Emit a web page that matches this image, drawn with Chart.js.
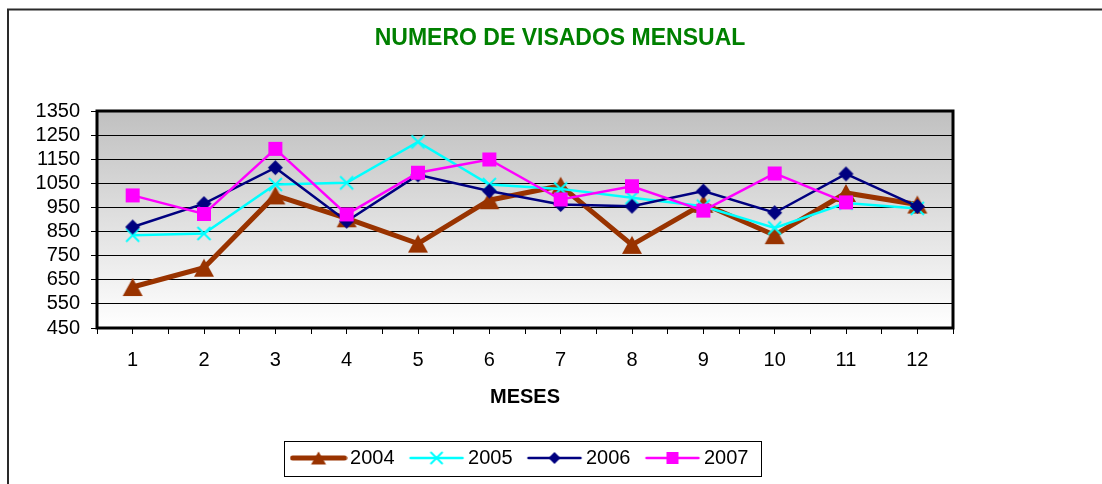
<!DOCTYPE html>
<html>
<head>
<meta charset="utf-8">
<script src="https://cdn.jsdelivr.net/npm/chart.js@4.4.1/dist/chart.umd.min.js"></script>
<style>
html,body{margin:0;padding:0;background:#fff;}
canvas{display:block;}
</style>
</head>
<body>
<canvas id="c" width="1102" height="484"></canvas>
<script>
// ---- data ----
const months = [1, 2, 3, 4, 5, 6, 7, 8, 9, 10, 11, 12];
const years = ['2004', '2005', '2006', '2007'];
const v2004 = [620, 700, 1000, 905, 800, 980, 1040, 795, 965, 835, 1010, 962];
const v2005 = [835, 842, 1045, 1052, 1222, 1045, 1027, 990, 955, 865, 968, 946];
const v2006 = [869, 966, 1115, 893, 1085, 1018, 962, 955, 1018, 928, 1089, 954];
const v2007 = [1000, 923, 1193, 921, 1094, 1149, 983, 1038, 937, 1091, 971, null];
const yMin = 450, yMax = 1350, yStep = 100;
const chartTitle = 'NUMERO DE VISADOS MENSUAL';
const xAxisTitle = 'MESES';

// ---- styles ----
const FONT = '"Liberation Sans", Arial, sans-serif';
const styles = [
  {color: '#993300', lineWidth: 5, marker: 'triangle', mw: 20, mh: 18, lw: 15, lh: 13},
  {color: '#00FFFF', lineWidth: 2.5, marker: 'cross', mw: 13, mh: 13, lw: 11, lh: 11},
  {color: '#000080', lineWidth: 2.5, marker: 'diamond', mw: 15, mh: 15, lw: 12, lh: 12},
  {color: '#FF00FF', lineWidth: 2.5, marker: 'square', mw: 14, mh: 14, lw: 12, lh: 12}
];
const series = [v2004, v2005, v2006, v2007];

function drawMarker(ctx, type, color, w, h, cx, cy) {
  ctx.fillStyle = color;
  ctx.strokeStyle = color;
  ctx.beginPath();
  if (type === 'triangle') {
    ctx.moveTo(cx, cy - h / 2);
    ctx.lineTo(cx + w / 2, cy + h / 2);
    ctx.lineTo(cx - w / 2, cy + h / 2);
    ctx.closePath();
    ctx.fill();
  } else if (type === 'diamond') {
    ctx.moveTo(cx, cy - h / 2);
    ctx.lineTo(cx + w / 2, cy);
    ctx.lineTo(cx, cy + h / 2);
    ctx.lineTo(cx - w / 2, cy);
    ctx.closePath();
    ctx.fill();
  } else if (type === 'square') {
    ctx.rect(cx - w / 2, cy - h / 2, w, h);
    ctx.fill();
  } else if (type === 'cross') {
    ctx.lineWidth = 2;
    ctx.moveTo(cx - w / 2, cy - h / 2);
    ctx.lineTo(cx + w / 2, cy + h / 2);
    ctx.moveTo(cx + w / 2, cy - h / 2);
    ctx.lineTo(cx - w / 2, cy + h / 2);
    ctx.stroke();
  }
}
function makeMarker(s) {
  const c = document.createElement('canvas');
  c.width = s.mw + 4; c.height = s.mh + 4;
  drawMarker(c.getContext('2d'), s.marker, s.color, s.mw, s.mh, c.width / 2, c.height / 2);
  return c;
}
function makeLegendIcon(s) {
  const c = document.createElement('canvas');
  c.width = 58; c.height = 22;
  const ctx = c.getContext('2d');
  ctx.strokeStyle = s.color;
  ctx.lineWidth = s.lineWidth;
  ctx.lineCap = 'round';
  ctx.beginPath();
  ctx.moveTo(3, 11); ctx.lineTo(55, 11);
  ctx.stroke();
  drawMarker(ctx, s.marker, s.color, s.lw, s.lh, 29, 11);
  return c;
}
const legendIcons = styles.map(makeLegendIcon);

const datasets = years.map((yr, i) => ({
  label: yr,
  data: months.map((m, j) => ({x: m, y: series[i][j]})),
  borderColor: styles[i].color,
  backgroundColor: styles[i].color,
  borderWidth: styles[i].lineWidth,
  pointStyle: makeMarker(styles[i]),
  pointRadius: 6,
  tension: 0,
  spanGaps: false,
  order: years.length - 1 - i
}));

// ---- plugins ----
const PLOT = {left: 97, right: 953, top: 111, bottom: 328};

const layoutFix = {
  id: 'layoutFix',
  afterLayout(chart) {
    const t = chart.titleBlock;
    if (t) { t.left = 18; t.right = 1102; t.width = t.right - t.left; }
    const lg = chart.legend;
    if (lg) { lg.left = 0; lg.right = 1045.5; lg.width = lg.right; lg.top = 427.5; lg.bottom = lg.top + lg.height; }
  }
};

const plotBg = {
  id: 'plotBg',
  beforeDraw(chart) {
    const {ctx, chartArea: a} = chart;
    ctx.save();
    ctx.strokeStyle = '#2a2a2a';
    ctx.lineWidth = 2;
    ctx.beginPath();
    ctx.moveTo(8, 484); ctx.lineTo(8, 9.5); ctx.lineTo(1102, 9.5);
    ctx.stroke();
    const g = ctx.createLinearGradient(0, a.top, 0, a.bottom);
    g.addColorStop(0, '#c0c0c0');
    g.addColorStop(1, '#ffffff');
    ctx.fillStyle = g;
    ctx.fillRect(a.left, a.top, a.right - a.left, a.bottom - a.top);
    ctx.restore();
  },
  beforeDatasetsDraw(chart) {
    const {ctx, chartArea: a} = chart;
    ctx.save();
    ctx.strokeStyle = '#000';
    ctx.lineWidth = 3;
    ctx.strokeRect(a.left, a.top, a.right - a.left, a.bottom - a.top);
    ctx.restore();
  },
  afterDraw(chart) {
    const lg = chart.legend;
    if (!lg || !lg.lineWidths) return;
    const p = lg.options.labels.padding;
    const lw = lg.lineWidths[0];
    const x0 = (lg.left + p + lg.right - lw) / 2;
    const cy = lg.top + p + 10;
    const ctx = chart.ctx;
    ctx.save();
    ctx.strokeStyle = '#000';
    ctx.lineWidth = 1;
    const l = Math.round(x0 - 13.5) + 0.5, r = Math.round(x0 + lw - p + 13) + 0.5;
    const t = Math.round(cy - 17.5) + 0.5, b = Math.round(cy + 17.5) + 0.5;
    ctx.strokeRect(l, t, r - l, b - t);
    ctx.restore();
  }
};

new Chart(document.getElementById('c'), {
  type: 'line',
  data: {datasets},
  plugins: [layoutFix, plotBg],
  options: {
    responsive: false,
    animation: false,
    events: [],
    layout: {padding: {left: 0, right: 1102 - PLOT.right, top: 0, bottom: 0}},
    plugins: {
      tooltip: {enabled: false},
      title: {
        display: true,
        text: chartTitle,
        color: '#008000',
        font: {family: FONT, size: 23, weight: 'bold', lineHeight: 1.2},
        padding: {top: 25.2, bottom: 58.2}
      },
      legend: {
        display: true,
        position: 'bottom',
        labels: {
          color: '#000',
          font: {family: FONT, size: 20},
          usePointStyle: true,
          pointStyleWidth: 43,
          padding: 20.5,
          generateLabels(chart) {
            return chart.data.datasets.map((ds, i) => ({
              text: ds.label,
              fillStyle: ds.borderColor,
              strokeStyle: ds.borderColor,
              lineWidth: 0,
              pointStyle: legendIcons[i],
              hidden: false,
              datasetIndex: i
            }));
          }
        }
      }
    },
    scales: {
      x: {
        type: 'linear',
        min: 0.5,
        max: 12.5,
        afterFit(s) { s.height = 105.5; },
        ticks: {
          stepSize: 0.5,
          autoSkip: false,
          maxRotation: 0,
          color: '#000',
          padding: 14,
          font: {family: FONT, size: 20},
          callback(v) { return Number.isInteger(v) ? String(v) : ''; }
        },
        grid: {drawOnChartArea: false, drawTicks: true, tickLength: 6, color: '#000', lineWidth: 1},
        border: {display: false},
        title: {
          display: true,
          text: xAxisTitle,
          color: '#000',
          font: {family: FONT, size: 20, weight: 'bold', lineHeight: 1.2},
          padding: {top: 0, bottom: 24.5}
        }
      },
      y: {
        min: yMin,
        max: yMax,
        afterFit(s) { s.width = PLOT.left; },
        ticks: {
          stepSize: yStep,
          autoSkip: false,
          color: '#000',
          padding: 11,
          font: {family: FONT, size: 20},
          callback(v) { return String(v); }
        },
        grid: {color: '#000', lineWidth: 1, tickLength: 6},
        border: {display: false}
      }
    }
  }
});
</script>
</body>
</html>
